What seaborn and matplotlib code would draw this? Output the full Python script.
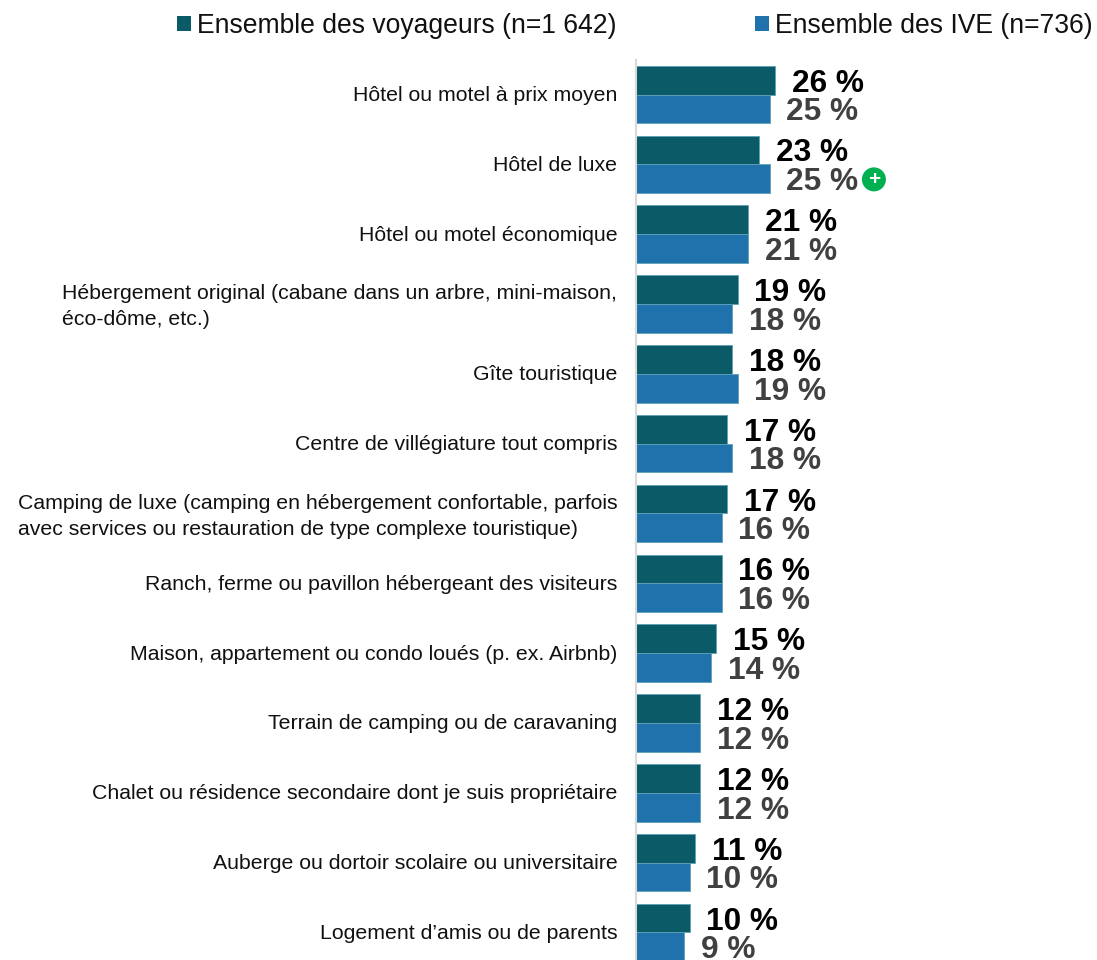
import matplotlib
matplotlib.use("Agg")
import matplotlib.pyplot as plt
from matplotlib.transforms import ScaledTranslation
import pandas as pd
import seaborn as sns

categories = [
    "Hôtel ou motel à prix moyen",
    "Hôtel de luxe",
    "Hôtel ou motel économique",
    "Hébergement original (cabane dans un arbre, mini-maison,\néco-dôme, etc.)",
    "Gîte touristique",
    "Centre de villégiature tout compris",
    "Camping de luxe (camping en hébergement confortable, parfois\navec services ou restauration de type complexe touristique)",
    "Ranch, ferme ou pavillon hébergeant des visiteurs",
    "Maison, appartement ou condo loués (p. ex. Airbnb)",
    "Terrain de camping ou de caravaning",
    "Chalet ou résidence secondaire dont je suis propriétaire",
    "Auberge ou dortoir scolaire ou universitaire",
    "Logement d’amis ou de parents",
]
voyageurs = [26, 23, 21, 19, 18, 17, 17, 16, 15, 12, 12, 11, 10]
ive = [25, 25, 21, 18, 19, 18, 16, 16, 14, 12, 12, 10, 9]
series_names = ["Ensemble des voyageurs (n=1 642)", "Ensemble des IVE (n=736)"]
series_colors = ["#0a5a68", "#2072ac"]
label_colors = ["#000000", "#404040"]

W, H = 1097, 960
plt.rcParams["font.family"] = ["Liberation Sans", "DejaVu Sans"]
df = pd.DataFrame({
    "cat": categories * 2,
    "val": voyageurs + ive,
    "serie": [series_names[0]] * len(categories) + [series_names[1]] * len(categories),
})

fig = plt.figure(figsize=(W / 100, H / 100), dpi=100, facecolor="white")
left, top = 636, 60
ax = fig.add_axes([left / W, 0, (W - left) / W, (H - top) / H])
sns.barplot(data=df, y="cat", x="val", hue="serie", order=categories,
            hue_order=series_names, palette=series_colors, width=0.822,
            saturation=1, edgecolor="#5f9fb8", linewidth=0.6, ax=ax, legend=False)

ppx = 5.35
pitch = 69.83
ax.set_xlim(0, (W - left) / ppx)
ax.set_ylim((H - 94.5) / pitch, -(94.5 - top) / pitch)
ax.set_xlabel("")
ax.set_ylabel("")
ax.xaxis.set_visible(False)
for s in ["top", "right", "bottom"]:
    ax.spines[s].set_visible(False)
ax.spines["left"].set_color("#d9d9d9")
ax.spines["left"].set_linewidth(1.5)
ax.tick_params(axis="y", length=0, pad=13.5)
shift = ScaledTranslation(0, 1 / 100, fig.dpi_scale_trans)
shift_two_lines = ScaledTranslation(0, 2.5 / 100, fig.dpi_scale_trans)
for t in ax.get_yticklabels():
    t.set_fontsize(15.33)
    t.set_color("#111111")
    t.set_multialignment("left")
    two = "\n" in t.get_text()
    t.set_linespacing(1.45 if two else 1.2)
    t.set_transform(t.get_transform() + (shift_two_lines if two else shift))

for k, (vals, col) in enumerate(zip([voyageurs, ive], label_colors)):
    cont = ax.containers[k]
    for bar, v in zip(cont, vals):
        ax.annotate(f"{v} %", (v, bar.get_y() + bar.get_height() / 2),
                    xytext=(12, -2.5), textcoords="offset points",
                    ha="left", va="center", fontsize=22.8, fontweight="bold",
                    color=col, annotation_clip=False)

# Significance marker next to the IVE value of "Hôtel de luxe"
b = ax.containers[1][1]
ax.annotate("+", (ive[1], b.get_y() + b.get_height() / 2), xytext=(75, -0.5),
            textcoords="offset points", ha="center", va="center", color="white",
            fontsize=15, fontweight="bold",
            bbox=dict(boxstyle="circle,pad=0.12", fc="#00b050", ec="none"))

handles = [plt.Rectangle((0, 0), 1, 1, fc=c, ec="none") for c in series_colors]
fig.legend(handles, series_names, ncols=2, fontsize=19.1, frameon=False,
           loc="upper left", bbox_to_anchor=(177 / W, 1 - 13 / H), borderaxespad=0,
           borderpad=0, handlelength=0.53, handleheight=0.53, handletextpad=0.24,
           columnspacing=5.2, labelcolor="#111111")

fig.savefig("out.png", dpi=100)
